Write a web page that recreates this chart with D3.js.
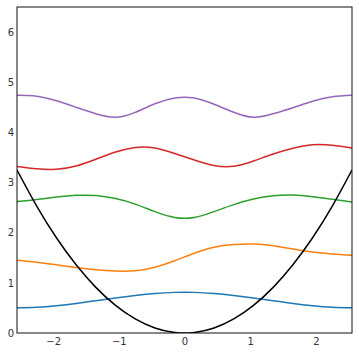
<!DOCTYPE html>
<html>
<head>
<meta charset="utf-8">
<script src="https://cdn.jsdelivr.net/npm/d3@7"></script>
<style>
  body { margin: 0; background: #fff; }
  svg { display: block; }
  .tick text { font-family: "DejaVu Sans", sans-serif; font-size: 10px; fill: #333; }
</style>
</head>
<body>
<div id="chart"></div>
<script>
// sample positions along x
var xs = [-2.55, -2.25, -1.95, -1.65, -1.35, -1.05, -0.75, -0.45, -0.15,
          0.15, 0.45, 0.75, 1.05, 1.35, 1.65, 1.95, 2.25, 2.55];

// potential curve
var potential = [3.25, 2.53, 1.90, 1.36, 0.91, 0.55, 0.28, 0.10, 0.01,
                 0.01, 0.10, 0.28, 0.55, 0.91, 1.36, 1.90, 2.53, 3.25];

// level curves
var level0 = [0.505, 0.515, 0.545, 0.59, 0.645, 0.70, 0.75, 0.79, 0.81,
              0.81, 0.79, 0.75, 0.70, 0.645, 0.59, 0.545, 0.515, 0.505];
var level1 = [1.45, 1.41, 1.36, 1.305, 1.26, 1.235, 1.24, 1.31, 1.44,
              1.59, 1.71, 1.765, 1.775, 1.74, 1.675, 1.615, 1.575, 1.55];
var level2 = [2.62, 2.66, 2.71, 2.745, 2.74, 2.68, 2.57, 2.42, 2.305,
              2.305, 2.42, 2.56, 2.67, 2.735, 2.75, 2.715, 2.665, 2.61];
var level3 = [3.32, 3.275, 3.265, 3.33, 3.465, 3.61, 3.70, 3.69, 3.58,
              3.45, 3.34, 3.325, 3.43, 3.57, 3.685, 3.755, 3.745, 3.69];
var level4 = [4.74, 4.72, 4.63, 4.50, 4.37, 4.30, 4.40, 4.57, 4.685,
              4.685, 4.56, 4.40, 4.30, 4.37, 4.49, 4.62, 4.71, 4.74];

var xTicks = [-2, -1, 0, 1, 2];
var yTicks = [0, 1, 2, 3, 4, 5, 6];

var series = [
  {values: level0, color: "#1f77b4"},
  {values: level1, color: "#ff7f0e"},
  {values: level2, color: "#2ca02c"},
  {values: level3, color: "#d62728"},
  {values: level4, color: "#9467bd"},
  {values: potential, color: "#000000"}
];

var margin = {top: 7, right: 7, bottom: 21, left: 17},
  width = 359 - margin.left - margin.right,
  height = 354 - margin.top - margin.bottom;

var svg = d3.select("#chart").append("svg")
    .attr("width", 359)
    .attr("height", 354);

var g = svg.append("g")
    .attr("transform", "translate(" + margin.left + "," + margin.top + ")");

var x = d3.scaleLinear().domain([-2.55, 2.55]).range([0, width]);
var y = d3.scaleLinear().domain([0, 6.5]).range([height, 0]);

g.append("clipPath").attr("id", "clip")
  .append("rect").attr("width", width).attr("height", height);

var line = d3.line()
    .x(function(d) { return x(d[0]); })
    .y(function(d) { return y(d[1]); })
    .curve(d3.curveNatural);

var plot = g.append("g").attr("clip-path", "url(#clip)");
series.forEach(function(s) {
  plot.append("path")
      .datum(xs.map(function(v, i) { return [v, s.values[i]]; }))
      .attr("fill", "none")
      .attr("stroke", s.color)
      .attr("stroke-width", 1.5)
      .attr("d", line);
});

// axes, no tick marks
var fmt = function(d) { return d < 0 ? "\u2212" + Math.abs(d) : "" + d; };
g.append("g")
    .attr("transform", "translate(0," + height + ")")
    .call(d3.axisBottom(x).tickValues(xTicks).tickSize(0).tickPadding(5).tickFormat(fmt))
    .call(function(a) { a.select(".domain").remove(); });
g.append("g")
    .call(d3.axisLeft(y).tickValues(yTicks).tickSize(0).tickPadding(3).tickFormat(fmt))
    .call(function(a) { a.select(".domain").remove(); });

g.append("rect")
    .attr("width", width)
    .attr("height", height)
    .attr("fill", "none")
    .attr("stroke", "#111")
    .attr("stroke-width", 1);
</script>
</body>
</html>
